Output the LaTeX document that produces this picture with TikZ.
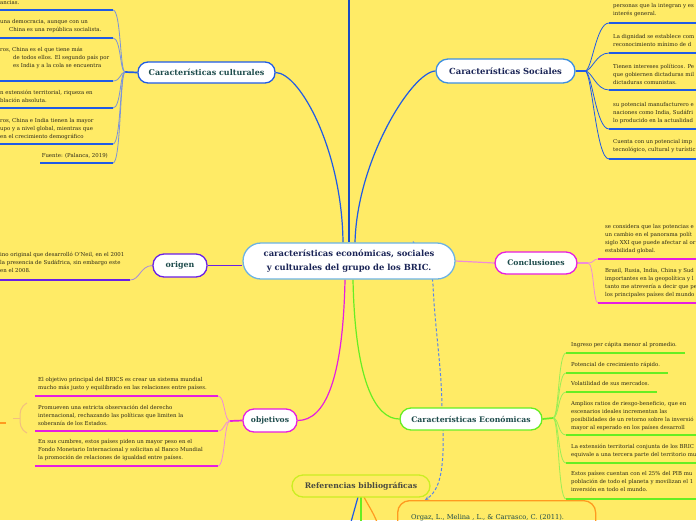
\documentclass[tikz,border=0pt]{standalone}
\usepackage{fontspec}
\setmainfont{DejaVu Serif}
\usetikzlibrary{arrows.meta}
\definecolor{bg}{HTML}{FFEB66}
\definecolor{cblue}{HTML}{1F5BE6}
\definecolor{cbluel}{HTML}{7B93D8}
\definecolor{sblue}{HTML}{3D8FE0}
\definecolor{centb}{HTML}{6DB3E3}
\definecolor{mag}{HTML}{E61EE0}
\definecolor{magl}{HTML}{F08CD8}
\definecolor{grn}{HTML}{66EE22}
\definecolor{grnl}{HTML}{9AEE55}
\definecolor{pur}{HTML}{6A1FE6}
\definecolor{purl}{HTML}{A88CD8}
\definecolor{yg}{HTML}{CCEE22}
\definecolor{org}{HTML}{FF9A1F}
\definecolor{orgl}{HTML}{F2BF80}
\definecolor{tealc}{HTML}{1D4B4B}
\definecolor{navyc}{HTML}{1A2456}
\definecolor{leafc}{HTML}{2C2818}
\definecolor{refgray}{HTML}{4A4A40}
\pgfdeclarelayer{bgl}
\pgfdeclarelayer{conn}
\pgfsetlayers{bgl,conn,main}
\newcommand{\lt}{\rule{0pt}{6pt}}
\begin{document}
\begin{tikzpicture}[x=1pt,y=-1pt,
  mnode/.style={draw, fill=white, line width=1.3pt, inner sep=0pt, text=tealc},
  leaftext/.style={anchor=north west, inner sep=0pt, align=left, text=leafc, font=\fontsize{5.4}{8.1}\selectfont},
  und/.style={line width=1.7pt},
  con/.style={line width=0.8pt},
  mainline/.style={line width=1.2pt}]
\begin{pgfonlayer}{bgl}
\fill[bg] (0,0) rectangle (696,520);
\end{pgfonlayer}
\useasboundingbox (0,0) rectangle (696,520);

% main nodes
\node[mnode, draw=centb, text=navyc, minimum width=212pt, minimum height=36pt, rounded corners=18pt, align=center, font=\bfseries\fontsize{8.4}{14}\selectfont] (central) at (349,261) {características económicas, sociales\\y culturales del grupo de los BRIC.};
\node[mnode, draw=cblue, minimum width=137pt, minimum height=21pt, rounded corners=10pt, font=\bfseries\fontsize{8.0}{9}\selectfont] (cult) at (206.5,72.5) {Características culturales};
\node[mnode, draw=sblue, text=navyc, minimum width=139pt, minimum height=24pt, rounded corners=12pt, font=\bfseries\fontsize{8.4}{10}\selectfont] (soc) at (505.5,71) {Características Sociales};
\node[mnode, draw=pur, minimum width=54pt, minimum height=23pt, rounded corners=11pt, font=\bfseries\fontsize{7.9}{9}\selectfont] (orig) at (180,265.5) {origen};
\node[mnode, draw=mag, minimum width=82pt, minimum height=22pt, rounded corners=11pt, font=\bfseries\fontsize{7.7}{9}\selectfont] (concl) at (536,263) {Conclusiones};
\node[mnode, draw=mag, minimum width=54pt, minimum height=23pt, rounded corners=11pt, font=\bfseries\fontsize{7.6}{9}\selectfont] (obj) at (270,420.5) {objetivos};
\node[mnode, draw=grn, minimum width=142pt, minimum height=22pt, rounded corners=11pt, font=\bfseries\fontsize{7.7}{9}\selectfont] (econ) at (471,419) {Características Económicas};
\node[mnode, draw=yg, fill=bg, text=refgray, minimum width=138pt, minimum height=22pt, rounded corners=11pt, font=\bfseries\fontsize{7.7}{9}\selectfont] (ref) at (361,486) {Referencias bibliográficas};
\node[draw=org, line width=1.3pt, rounded corners=12pt, minimum width=198pt, minimum height=44pt, inner sep=0pt, anchor=north west] (orgbox) at (397,500) {};
\node[anchor=base west, inner sep=0pt, text=tealc, font=\fontsize{6.7}{8}\selectfont] (orgtxt) at (411,519) {Orgaz, L., Melina , L., \& Carrasco, C. (2011).};

% coordinates
\coordinate (topc) at (349,-2);
\coordinate (cb) at (125,72);
\coordinate (sb) at (585,71);
\coordinate (kb) at (588,263);
\coordinate (eb) at (553,418);
\coordinate (ob) at (230,421);
\coordinate (rA) at (413,241);
\coordinate (rB) at (425,500);
\coordinate (r1) at (358,497);
\coordinate (r1e) at (351,522);
\coordinate (r2) at (361,497);
\coordinate (r2e) at (361,522);
\coordinate (r3) at (364,497);
\coordinate (r3e) at (377,522);

% leaf texts: culturales
\node[leaftext] (c1) at (0,-1.5) {\lt ancias.};
\node[leaftext] (c2) at (0,17) {\lt una democracia, aunque con un\\\hspace*{9pt}China es una república socialista.};
\node[leaftext] (c3) at (0,45) {\lt ros, China es el que tiene más\\\hspace*{13pt}de todos ellos. El segundo país por\\\hspace*{13pt}es India y a la cola se encuentra};
\node[leaftext] (c4) at (0,88) {\lt n extensión territorial, riqueza en\\blación absoluta.};
\node[leaftext] (c5) at (0,116) {\lt ros, China e India tienen la mayor\\upo y a nivel global, mientras que\\en el crecimiento demográfico};
\node[leaftext, anchor=north east] (c6) at (108,151) {\lt Fuente: (Palanca, 2019)};
% origen
\node[leaftext] (o0) at (0,250) {\lt ino original que desarrolló O'Neil, en el 2001\\la presencia de Sudáfrica, sin embargo este\\en el 2008.};
% objetivos
\node[leaftext] (ob1) at (38,375) {\lt El objetivo principal del BRICS es crear un sistema mundial\\mucho más justo y equilibrado en las relaciones entre países.};
\node[leaftext] (ob2) at (38,403) {\lt Promueven una estricta observación del derecho\\internacional, rechazando las políticas que limiten la\\soberanía de los Estados.};
\node[leaftext] (ob3) at (38,437) {\lt En sus cumbres, estos países piden un mayor peso en el\\Fondo Monetario Internacional y solicitan al Banco Mundial\\la promoción de relaciones de igualdad entre países.};
% sociales
\node[leaftext] (s1) at (613,1.5) {\lt personas que la integran y es\\interés general.};
\node[leaftext] (s2) at (613,32) {\lt La dignidad se establece com\\reconocimiento mínimo de d};
\node[leaftext] (s3) at (613,62) {\lt Tienen intereses políticos. Pe\\que gobiernen dictaduras mil\\dictaduras comunistas.};
\node[leaftext] (s4) at (613,100) {\lt su potencial manufacturero e\\naciones como India, Sudáfri\\lo producido en la actualidad};
\node[leaftext] (s5) at (613,137) {\lt Cuenta con un potencial imp\\tecnológico, cultural y turístic};
% conclusiones
\node[leaftext] (k1) at (605,222) {\lt se considera que las potencias e\\un cambio en el panorama polít\\siglo XXI que puede afectar al or\\estabilidad global.};
\node[leaftext] (k2) at (605,266) {\lt Brasil, Rusia, India, China y Sud\\importantes en la geopolítica y l\\tanto me atrevería a decir que pe\\los principales países del mundo};
% economicas
\node[leaftext] (e1) at (571,340) {\lt Ingreso per cápita menor al promedio.};
\node[leaftext] (e2) at (571,360) {\lt Potencial de crecimiento rápido.};
\node[leaftext] (e3) at (571,379) {\lt Volatilidad de sus mercados.};
\node[leaftext] (e4) at (571,399) {\lt Amplios ratios de riesgo-beneficio, que en\\escenarios ideales incrementan las\\posibilidades de un retorno sobre la inversió\\mayor al esperado en los países desarroll};
\node[leaftext] (e5) at (571,442) {\lt La extensión territorial conjunta de los BRIC\\equivale a una tercera parte del territorio mu};
\node[leaftext] (e6) at (571,469) {\lt Estos países cuentan con el 25\% del PIB mu\\población de todo el planeta y movilizan el 1\\inversión en todo el mundo.};

\begin{pgfonlayer}{conn}
% central connections
\draw[cblue, mainline] (cult.east) .. controls (300,73) and (342,150) .. ([xshift=-6pt]central.north);
\draw[cblue, mainline] (soc.west) .. controls (412,72) and (357,160) .. ([xshift=6pt]central.north);
\draw[cblue!85!black, mainline] (topc) .. controls (349,100) and (349,180) .. (central.north);
\draw[pur, mainline] (orig.east) -- (orig.east -| central.west);
\draw[magl, mainline] (central.east) -- (concl.west);
\draw[mag, mainline] ([xshift=-4pt]central.south) .. controls (343,380) and (325,420.5) .. (obj.east);
\draw[grn, mainline] ([xshift=4pt]central.south) .. controls (355,380) and (375,419) .. (econ.west);
\draw[cblue!75, line width=1pt, dash pattern=on 3pt off 2pt, {Stealth[length=4pt,width=3.5pt]}-{Stealth[length=4pt,width=3.5pt]}] (rA) .. controls (418,258) and (433,268) .. (433,285) .. controls (435,330) and (442,370) .. (442,410) -- (443,430) .. controls (444,470) and (440,490) .. (rB);
% referencias downward
\draw[cblue, mainline] (r1) -- (r1e);
\draw[grn, line width=1.4pt] (r2) -- (r2e);
\draw[org, mainline] (r3) .. controls (368,505) and (373,512) .. (r3e);

% culturales leaves
\draw[cblue, und] (cult.west) -- (cb);
\foreach \n/\y/\xs in {1/10/0,2/38/0,3/81/0,4/108/0,5/144/0,6/163/40}{
  \coordinate (cuE\n) at (113,\y);
  \coordinate (cuS\n) at (\xs,\y);
  \draw[cbluel, con] (cb) .. controls (120,72) and (121,\y) .. (cuE\n);
  \draw[cblue, und] (cuE\n) -- (cuS\n);
}
% sociales leaves
\draw[cblue, und] (soc.east) -- (sb);
\foreach \n/\y in {1/23,2/53,3/90,4/129,5/159}{
  \coordinate (suS\n) at (609,\y);
  \coordinate (suE\n) at (697,\y);
  \draw[cblue, con] (sb) .. controls (592,71) and (596,\y) .. (suS\n);
  \draw[cblue, und] (suS\n) -- (suE\n);
}
% conclusiones leaves
\draw[magl, mainline] (concl.east) -- (kb);
\foreach \n/\y in {1/259,2/303}{
  \coordinate (kuS\n) at (598,\y);
  \coordinate (kuE\n) at (697,\y);
  \draw[magl, con] (kb) .. controls (594,263) and (593,\y) .. (kuS\n);
  \draw[mag, und] (kuS\n) -- (kuE\n);
}
% economicas leaves
\draw[grn, und] (econ.east) -- (eb);
\foreach \n/\y/\xe in {1/353/685,2/373/668,3/392/657,4/435/697,5/463/697,6/499/697}{
  \coordinate (euS\n) at (566,\y);
  \coordinate (euE\n) at (\xe,\y);
  \draw[grnl, con] (eb) .. controls (559,418) and (558,\y) .. (euS\n);
  \draw[grn, und] (euS\n) -- (euE\n);
}
% objetivos leaves
\draw[mag, und] (obj.west) -- (ob);
\foreach \n/\y in {1/396,2/431,3/466}{
  \coordinate (ouE\n) at (218,\y);
  \coordinate (ouS\n) at (35,\y);
  \draw[magl, con] (ob) .. controls (224,421) and (225,\y) .. (ouE\n);
  \draw[mag, und] (ouE\n) -- (ouS\n);
}
% origen leaf
\coordinate (puE) at (130,280);
\coordinate (puS) at (-1,280);
\draw[purl, con] (orig.west) .. controls (140,266) and (140,280) .. (puE);
\draw[pur, und] (puE) -- (puS);
% left partial bracket
\coordinate (bt) at (27,403);
\coordinate (bm) at (20,418);
\coordinate (bb) at (27,433);
\coordinate (bl) at (13,418);
\draw[orgl, line width=1pt] (bt) .. controls (20,407) and (20,412) .. (bm) .. controls (20,424) and (20,429) .. (bb);
\draw[orgl, line width=1pt] (bl) -- (bm);
\coordinate (ou0a) at (-1,423);
\coordinate (ou0b) at (6,423);
\draw[org, und] (ou0a) -- (ou0b);
\end{pgfonlayer}
\end{tikzpicture}
\end{document}
